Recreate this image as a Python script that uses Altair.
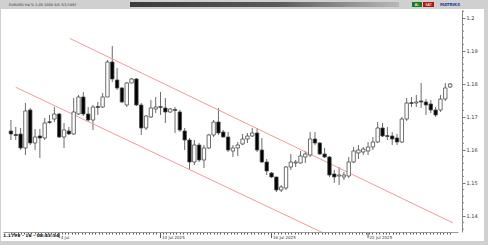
import altair as alt
import pandas as pd

# ---- data (EURUSD candles) ----
opens = [1.16576, 1.16470, 1.16485, 1.16061, 1.17212, 1.16212, 1.16424, 1.16364, 1.16848, 1.16939,
         1.17091, 1.16394, 1.16576, 1.16485, 1.17091, 1.17606, 1.17091, 1.16909, 1.17303, 1.17303,
         1.17606, 1.18667, 1.18121, 1.17879, 1.17364, 1.18030, 1.18152, 1.17364, 1.16667, 1.17000,
         1.17242, 1.17303, 1.17273, 1.17152, 1.17212, 1.17152, 1.16576, 1.16303, 1.15636, 1.16152,
         1.15697, 1.16061, 1.16455, 1.16848, 1.16545, 1.16394, 1.15970, 1.16061, 1.16182, 1.16333,
         1.16424, 1.16515, 1.16000, 1.15636, 1.15303, 1.15182, 1.14788, 1.14848, 1.15485, 1.15606,
         1.15606, 1.15788, 1.15848, 1.16333, 1.16212, 1.15879, 1.15788, 1.15273, 1.15212, 1.15182,
         1.15212, 1.15636, 1.15909, 1.15939, 1.15970, 1.16091, 1.16242, 1.16667, 1.16424, 1.16424,
         1.16364, 1.16242, 1.16939, 1.17424, 1.17424, 1.17485, 1.17455, 1.17394, 1.17212, 1.17212,
         1.17545, 1.17909]
highs = [1.16909, 1.16697, 1.16667, 1.17424, 1.17273, 1.16636, 1.16636, 1.16970, 1.17061, 1.17303,
         1.17121, 1.16818, 1.16697, 1.17576, 1.17667, 1.17758, 1.17303, 1.17364, 1.17455, 1.17727,
         1.18727, 1.19152, 1.18485, 1.17909, 1.18061, 1.18182, 1.18182, 1.17424, 1.17061, 1.17515,
         1.17606, 1.17758, 1.17576, 1.17273, 1.17303, 1.17212, 1.16667, 1.16364, 1.16303, 1.16212,
         1.16152, 1.16485, 1.16909, 1.17273, 1.16606, 1.16545, 1.16152, 1.16242, 1.16485, 1.16515,
         1.16667, 1.16667, 1.16364, 1.15727, 1.15333, 1.15190, 1.14939, 1.15515, 1.15879, 1.15697,
         1.15970, 1.15970, 1.16545, 1.16545, 1.16242, 1.16061, 1.15818, 1.15394, 1.15485, 1.15333,
         1.15788, 1.16091, 1.16152, 1.16091, 1.16242, 1.16394, 1.16848, 1.16818, 1.16697, 1.16545,
         1.16485, 1.17000, 1.17576, 1.17606, 1.17667, 1.18030, 1.17545, 1.17515, 1.17303, 1.17667,
         1.18030, 1.18030]
lows = [1.16303, 1.16303, 1.16000, 1.15848, 1.16152, 1.16000, 1.15758, 1.16303, 1.16800, 1.16848,
        1.16364, 1.16061, 1.16455, 1.16455, 1.17061, 1.17030, 1.16848, 1.16606, 1.17061, 1.17273,
        1.17606, 1.18061, 1.17818, 1.17424, 1.17303, 1.18030, 1.17333, 1.16455, 1.16606, 1.16970,
        1.17121, 1.17061, 1.16818, 1.17121, 1.16515, 1.16545, 1.16000, 1.15394, 1.15545, 1.15636,
        1.15455, 1.16030, 1.16394, 1.16455, 1.16380, 1.15939, 1.15788, 1.15818, 1.16152, 1.16212,
        1.16394, 1.15939, 1.15606, 1.15242, 1.15152, 1.14727, 1.14727, 1.14788, 1.15394, 1.15485,
        1.15590, 1.15606, 1.15788, 1.16152, 1.15848, 1.15758, 1.15182, 1.15000, 1.14939, 1.15091,
        1.15152, 1.15606, 1.15727, 1.15848, 1.15848, 1.16000, 1.16212, 1.16394, 1.16303, 1.16152,
        1.16152, 1.16212, 1.16879, 1.17303, 1.17303, 1.17273, 1.17061, 1.17121, 1.17000, 1.17152,
        1.17485, 1.17879]
closes = [1.16485, 1.16440, 1.16061, 1.17182, 1.16212, 1.16394, 1.16364, 1.16818, 1.16830, 1.17091,
          1.16394, 1.16606, 1.16485, 1.17152, 1.17606, 1.17091, 1.16909, 1.17303, 1.17290, 1.17606,
          1.18667, 1.18152, 1.17879, 1.17455, 1.18030, 1.18152, 1.17364, 1.16667, 1.17030, 1.17273,
          1.17303, 1.17290, 1.17152, 1.17242, 1.17200, 1.16606, 1.16303, 1.15636, 1.16152, 1.15697,
          1.16061, 1.16455, 1.16848, 1.16515, 1.16394, 1.16000, 1.16061, 1.16152, 1.16333, 1.16424,
          1.16515, 1.16000, 1.15636, 1.15364, 1.15182, 1.14788, 1.14879, 1.15485, 1.15636, 1.15636,
          1.15818, 1.15879, 1.16333, 1.16212, 1.15879, 1.15788, 1.15242, 1.15182, 1.15242, 1.15242,
          1.15636, 1.15970, 1.16000, 1.16030, 1.16091, 1.16242, 1.16667, 1.16424, 1.16410, 1.16333,
          1.16242, 1.16939, 1.17424, 1.17410, 1.17455, 1.17455, 1.17364, 1.17212, 1.17061, 1.17545,
          1.17879, 1.18000]

# channel lines (candle index, price)
upper_x = [12.2, 91.6]
upper_y = [1.1938, 1.1379]
lower_x = [1.0, 70]
lower_y = [1.1790, 1.1312]

# axis texts and ticks
y_label_values = [1.14, 1.15, 1.16, 1.17, 1.18, 1.19, 1.20]
y_minor_values = [1.136, 1.138, 1.142, 1.144, 1.146, 1.148, 1.152, 1.154, 1.156, 1.158,
                  1.162, 1.164, 1.166, 1.168, 1.172, 1.174, 1.176, 1.178, 1.182, 1.184,
                  1.186, 1.188, 1.192, 1.194, 1.196, 1.198, 1.202]
x_label_pos = [10, 31, 54, 74]
x_label_txt = ["4 Jul", "10 Jul 2025", "16 Jul 2025", "22 Jul 2025"]
status_text = "1.1798 - 16 - 08:43:54"
symbol_text = ["EURUSD", "H4", "%", "1.05", "1000", "5/6", "3/1/1997"]

W, H = 455, 222

df = pd.DataFrame({"i": list(range(len(opens))), "open": opens, "high": highs,
                   "low": lows, "close": closes})
df["dir"] = ["up" if c >= o else "down" for o, c in zip(df["open"], df["close"])]
df["top"] = df[["open", "close"]].max(axis=1)
df["bot"] = df[["open", "close"]].min(axis=1)
small = (df["top"] - df["bot"]) < 0.00025
df.loc[small, "top"] = df.loc[small, "bot"] + 0.00025

xs = alt.Scale(domain=[-0.608, 91.6], nice=False, zero=False)
ys = alt.Scale(domain=[1.13515, 1.20242], nice=False, zero=False)

xax = alt.Axis(values=[k * 0.7 for k in range(131)], labels=False, tickSize=2, zindex=2,
               tickColor="#555", domainColor="#999", title=None, grid=False)
yax = alt.Axis(orient="right", values=y_label_values, title=None, grid=False, offset=4,
               zindex=2, tickSize=3, tickColor="#777", domainColor="#888", labelFontSize=5,
               labelColor="#333", labelPadding=1, labelFont="DejaVu Sans",
               labelOverlap=False, labelBound=False, labelFlush=False, format=".2~f")

one = pd.DataFrame({"a": [0]})

# decorations: white panel, toolbar
panel = alt.Chart(one).mark_rect(color="white", clip=False).encode(
    x=alt.value(-2), x2=alt.value(W + 26), y=alt.value(-1), y2=alt.value(H + 9))
toolbar_bar = alt.Chart(one).mark_rect(
    clip=False,
    color=alt.Gradient(gradient="linear", x1=0, x2=1, y1=0, y2=0,
                       stops=[alt.GradientStop(color="#3a3a3a", offset=0),
                              alt.GradientStop(color="#5a5a5a", offset=0.55),
                              alt.GradientStop(color="#b8b8b8", offset=1)])
).encode(x=alt.value(127), x2=alt.value(396), y=alt.value(-8), y2=alt.value(-3))
btn_al = alt.Chart(one).mark_rect(clip=False, color="#1a7a1a").encode(
    x=alt.value(409), x2=alt.value(419), y=alt.value(-8), y2=alt.value(-3))
btn_sat = alt.Chart(one).mark_rect(clip=False, color="#b01818").encode(
    x=alt.value(420), x2=alt.value(431), y=alt.value(-8), y2=alt.value(-3))
txt_al = alt.Chart(pd.DataFrame({"t": ["AL"]})).mark_text(
    fontSize=3.5, color="white", clip=False).encode(x=alt.value(414), y=alt.value(-5.5), text="t:N")
txt_sat = alt.Chart(pd.DataFrame({"t": ["SAT"]})).mark_text(
    fontSize=3.5, color="white", clip=False).encode(x=alt.value(425.5), y=alt.value(-5.5), text="t:N")
matriks = alt.Chart(pd.DataFrame({"t": ["MATRIKS"]})).mark_text(
    fontSize=4, color="#1a3a9a", fontWeight="bold", align="left", clip=False, font="DejaVu Sans"
).encode(x=alt.value(437), y=alt.value(-5.5), text="t:N")
sym = alt.Chart(pd.DataFrame({"t": ["  ".join(symbol_text)]})).mark_text(
    fontSize=3.5, color="#333", align="left", clip=False, font="DejaVu Sans"
).encode(x=alt.value(6), y=alt.value(-5.5), text="t:N")

wick = alt.Chart(df).mark_rule(color="#6a6a6a", strokeWidth=1).encode(
    x=alt.X("i:Q", scale=xs, axis=xax),
    y=alt.Y("low:Q", scale=ys, axis=yax),
    y2="high:Q")

up_df = pd.DataFrame({"x": upper_x, "y": upper_y})
lo_df = pd.DataFrame({"x": lower_x, "y": lower_y})
upper = alt.Chart(up_df).mark_line(color="#f29a9a", strokeWidth=1, clip=True).encode(
    x=alt.X("x:Q", scale=xs, axis=xax), y=alt.Y("y:Q", scale=ys, axis=yax))
lower = alt.Chart(lo_df).mark_line(color="#f29a9a", strokeWidth=1, clip=True).encode(
    x=alt.X("x:Q", scale=xs, axis=xax), y=alt.Y("y:Q", scale=ys, axis=yax))

body = alt.Chart(df).mark_bar(size=3.4, stroke="#4a4a4a", strokeWidth=0.8).encode(
    x=alt.X("i:Q", scale=xs, axis=xax),
    y=alt.Y("bot:Q", scale=ys, axis=yax),
    y2="top:Q",
    fill=alt.Fill("dir:N", scale=alt.Scale(domain=["up", "down"], range=["white", "black"]),
                  legend=None))

minor_df = pd.DataFrame({"v": y_minor_values})
minor = alt.Chart(minor_df).mark_rule(color="#888", clip=False).encode(
    y=alt.Y("v:Q", scale=ys, axis=yax), x=alt.value(W + 4), x2=alt.value(W + 6))

xl_df = pd.DataFrame({"x": x_label_pos, "t": x_label_txt})
xl_rule = alt.Chart(xl_df).mark_rule(color="#555", clip=False).encode(
    x=alt.X("x:Q", scale=xs, axis=xax), y=alt.value(H), y2=alt.value(H + 6))
xl_text = alt.Chart(xl_df).mark_text(fontSize=4, color="#333", align="left", clip=False,
                                     font="DejaVu Sans").encode(
    x=alt.X("x:Q", scale=xs, axis=xax), y=alt.value(H + 6), text="t:N",
    xOffset=alt.value(1.5))
status = alt.Chart(pd.DataFrame({"t": [status_text]})).mark_text(
    fontSize=4.5, color="#111", fontWeight="bold", align="left", clip=False,
    font="DejaVu Sans").encode(x=alt.value(0), y=alt.value(H + 4), text="t:N")

chart = alt.layer(panel, toolbar_bar, btn_al, btn_sat, txt_al, txt_sat, matriks, sym,
                  wick, upper, lower, body, minor, xl_rule, xl_text, status).properties(
    width=W, height=H,
    padding={"left": 3, "top": 10, "right": 30, "bottom": 13},
    autosize=alt.AutoSizeParams(type="none"),
    background="#d0d0d0",
).configure_view(stroke="#9a9a9a", strokeWidth=1, fill="white")

chart.save("out.html", embed_options={"renderer": "svg", "actions": False})
